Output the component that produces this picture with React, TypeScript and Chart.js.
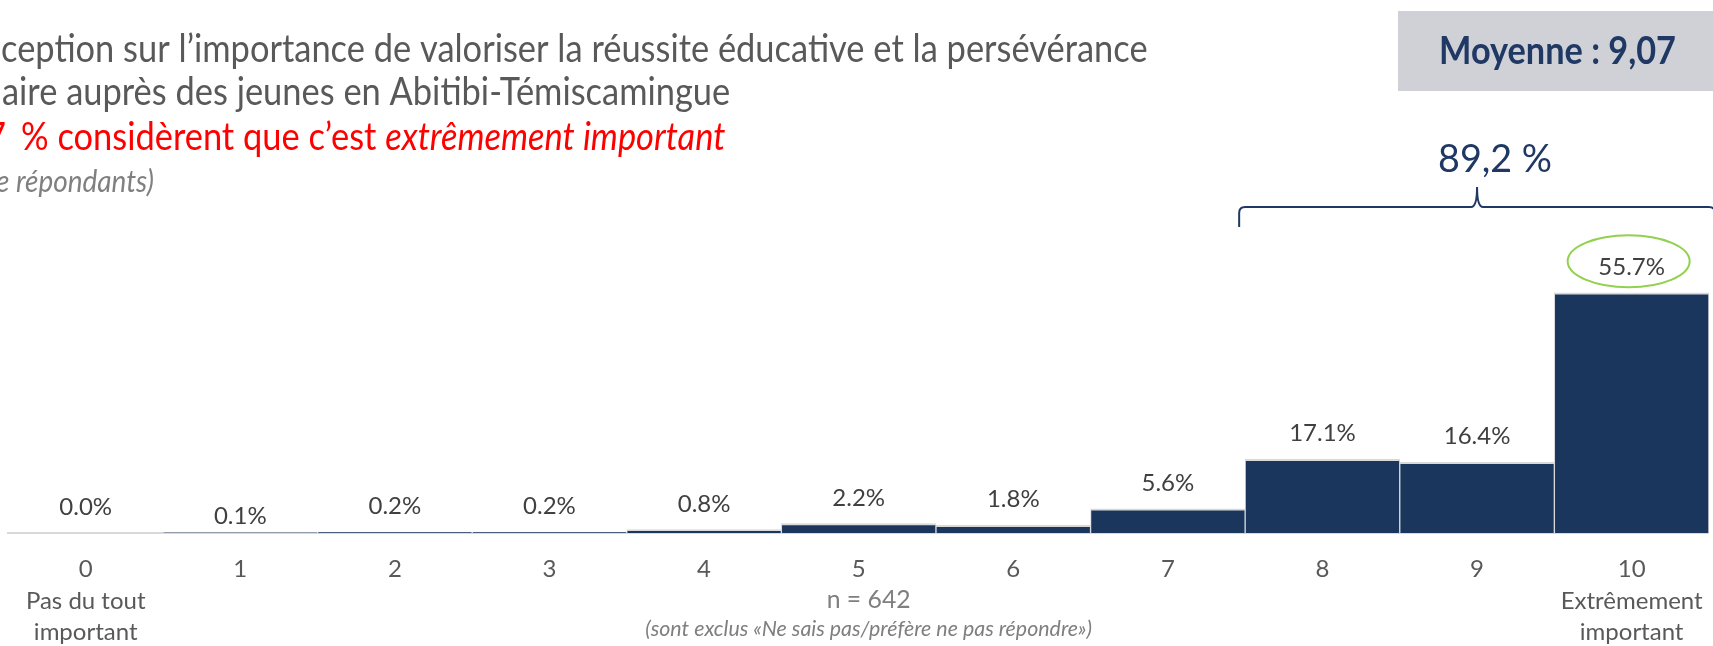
import { useEffect, useRef } from 'react';
import { Chart, registerables } from 'chart.js';

Chart.register(...registerables);

// ---- Data ----
const categories = ['0', '1', '2', '3', '4', '5', '6', '7', '8', '9', '10'];
const lowAnchor = ['Pas du tout', 'important'];
const highAnchor = ['Extrêmement', 'important'];
const percentages = [0.0, 0.1, 0.2, 0.2, 0.8, 2.2, 1.8, 5.6, 17.1, 16.4, 55.7];

const titleLines = [
  'ception sur l’importance de valoriser la réussite éducative et la persévérance',
  'aire auprès des jeunes en Abitibi-Témiscamingue',
];
const highlightDigit = '7';
const highlightLead = '% considèrent que c’est ';
const highlightItalic = 'extrêmement important';
const baseNote = 'e répondants)';
const meanLabel = 'Moyenne : 9,07';
const topThreeShare = '89,2 %';
const sampleSize = 'n = 642';
const exclusionNote = '(sont exclus «Ne sais pas/préfère ne pas répondre»)';

const FAM = 'Lato, "Open Sans", sans-serif';
const NAVY = '#1B365D';
const DARK_NAVY = '#1F3864';

const CANVAS_W = 1724;
const CANVAS_H = 646;
const SQUISH = 0.9;

function measureAt(ctx: CanvasRenderingContext2D, text: string, style: string) {
  ctx.font = `${style} 100px ${FAM}`;
  return ctx.measureText(text).width / 100;
}

// draw condensed text: width scaled by SQUISH
function drawSq(ctx: CanvasRenderingContext2D, text: string, x: number, y: number) {
  ctx.save();
  ctx.translate(x, y);
  ctx.scale(SQUISH, 1);
  ctx.fillText(text, 0, 0);
  ctx.restore();
}

const decorPlugin = {
  id: 'decor',
  afterDatasetsDraw(chart: any) {
    const ctx: CanvasRenderingContext2D = chart.ctx;
    const xs = chart.scales.x;
    const meta = chart.getDatasetMeta(0);
    const catW = xs.getPixelForValue(1) - xs.getPixelForValue(0);

    ctx.save();

    // ---- Title block ----
    ctx.textAlign = 'left';
    ctx.textBaseline = 'alphabetic';
    const tSize = 1147 / (measureAt(ctx, titleLines[0], 'normal') * SQUISH);
    ctx.font = `normal ${tSize}px ${FAM}`;
    ctx.fillStyle = '#595959';
    drawSq(ctx, titleLines[0], 1, 62);
    drawSq(ctx, titleLines[1], 2, 105);

    ctx.fillStyle = '#FF0000';
    const w7 = ctx.measureText(highlightDigit).width * SQUISH;
    drawSq(ctx, highlightDigit, 6 - w7, 150);
    drawSq(ctx, highlightLead, 21, 150);
    const leadW = ctx.measureText(highlightLead).width * SQUISH;
    ctx.font = `italic ${tSize}px ${FAM}`;
    drawSq(ctx, highlightItalic, 21 + leadW, 150);

    const nSize = 138 / (measureAt(ctx, baseNote.slice(2), 'italic') * SQUISH);
    ctx.font = `italic ${nSize}px ${FAM}`;
    ctx.fillStyle = '#808080';
    const eW = ctx.measureText('e ').width * SQUISH;
    drawSq(ctx, baseNote, 16 - eW, 192);

    // ---- Mean box ----
    ctx.fillStyle = '#D0D1D6';
    ctx.fillRect(1398, 11, CANVAS_W - 1398, 80);
    const mSize = 237 / (measureAt(ctx, meanLabel, 'bold') * SQUISH);
    ctx.font = `bold ${mSize}px ${FAM}`;
    ctx.fillStyle = DARK_NAVY;
    ctx.textAlign = 'center';
    drawSq(ctx, meanLabel, 1557.5, 64);

    // ---- Brace over top three ----
    const xl = xs.getPixelForValue(8) - catW / 2 - 6;
    const xc = xs.getPixelForValue(9);
    const xr = xs.getPixelForValue(10) + catW / 2 + 6;
    const yb = 207;
    ctx.strokeStyle = DARK_NAVY;
    ctx.lineWidth = 2;
    ctx.beginPath();
    ctx.moveTo(xl, 227);
    ctx.lineTo(xl, yb + 6);
    ctx.quadraticCurveTo(xl, yb, xl + 6, yb);
    ctx.lineTo(xc - 6, yb);
    ctx.quadraticCurveTo(xc, yb, xc, yb - 20);
    ctx.quadraticCurveTo(xc, yb, xc + 6, yb);
    ctx.lineTo(xr - 6, yb);
    ctx.quadraticCurveTo(xr, yb, xr, yb + 6);
    ctx.lineTo(xr, 227);
    ctx.stroke();

    const sSize = 114 / measureAt(ctx, topThreeShare, 'normal');
    ctx.font = `normal ${sSize}px ${FAM}`;
    ctx.fillStyle = DARK_NAVY;
    ctx.fillText(topThreeShare, xc + 18, 172);

    // ---- Data labels ----
    ctx.font = `normal 24px ${FAM}`;
    ctx.fillStyle = '#404040';
    meta.data.forEach((el: any, i: number) => {
      const nudge = i === 1 ? 9 : 0;
      ctx.fillText(percentages[i].toFixed(1) + '%', el.x, el.y - 18 + nudge);
    });

    // ---- Highlight ellipse on top category ----
    const last = meta.data[meta.data.length - 1];
    ctx.strokeStyle = '#92D050';
    ctx.lineWidth = 2;
    ctx.beginPath();
    ctx.ellipse(last.x - 3, last.y - 31.5, 61, 26, 0, 0, Math.PI * 2);
    ctx.stroke();

    // ---- Sample notes ----
    const x5 = xs.getPixelForValue(5) + 10;
    const smSize = 84 / measureAt(ctx, sampleSize, 'normal');
    ctx.font = `normal ${smSize}px ${FAM}`;
    ctx.fillStyle = '#7F7F7F';
    ctx.fillText(sampleSize, x5, 608);
    const exSize = 447 / measureAt(ctx, exclusionNote, 'italic');
    ctx.font = `italic ${exSize}px ${FAM}`;
    ctx.fillText(exclusionNote, x5, 636);

    ctx.restore();
  },
};

export default function App() {
  const ref = useRef<HTMLCanvasElement | null>(null);

  useEffect(() => {
    if (!ref.current) return;
    const labels = categories.map((c, i) => {
      if (i === 0) return [c, ...lowAnchor];
      if (i === categories.length - 1) return [c, ...highAnchor];
      return c;
    });
    const chart = new Chart(ref.current, {
      type: 'bar',
      data: {
        labels,
        datasets: [
          {
            data: percentages,
            backgroundColor: NAVY,
            borderColor: '#D9D9D9',
            borderWidth: { top: 2, left: 1, right: 1, bottom: 0 },
            barPercentage: 1,
            categoryPercentage: 1,
          },
        ],
      },
      options: {
        responsive: false,
        animation: false,
        devicePixelRatio: 1,
        layout: { padding: { left: 8.4, right: CANVAS_W - 1716.1, top: 274.2, bottom: 0 } },
        plugins: { legend: { display: false }, tooltip: { enabled: false } },
        scales: {
          x: {
            grid: { display: false, drawTicks: false },
            border: { display: true, color: '#D9D9D9', width: 2 },
            ticks: {
              color: '#595959',
              font: { family: FAM, size: 24, lineHeight: 1.31 },
              padding: 21,
              autoSkip: false,
              maxRotation: 0,
              minRotation: 0,
            },
            afterFit: (s: any) => {
              s.height = CANVAS_H - 533;
            },
          },
          y: { display: false, min: 0, max: 60 },
        },
      },
      plugins: [decorPlugin],
    } as any);
    return () => chart.destroy();
  }, []);

  return (
    <div
      style={{
        position: 'fixed',
        left: 0,
        top: 0,
        width: 1713,
        height: 646,
        overflow: 'hidden',
        background: '#ffffff',
      }}
    >
      <canvas ref={ref} width={CANVAS_W} height={CANVAS_H} style={{ width: CANVAS_W, height: CANVAS_H, display: 'block' }} />
    </div>
  );
}
